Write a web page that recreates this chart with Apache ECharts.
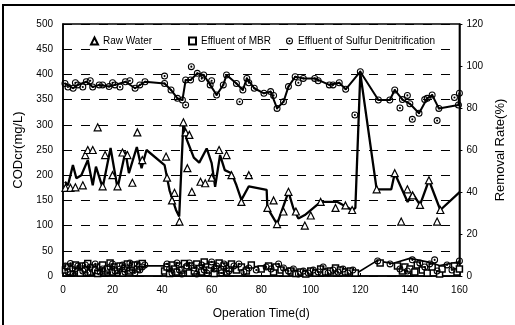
<!DOCTYPE html>
<html><head><meta charset="utf-8">
<script src="https://cdn.jsdelivr.net/npm/echarts@6/dist/echarts.min.js"></script>
<style>html,body{margin:0;padding:0;background:#fff}#c{width:515px;height:325px}</style>
</head><body><div id="c"></div>
<script>
// ---- data (day, value) ----
const xTicks = [0,20,40,60,80,100,120,140,160];
const rawWaterPoints = [[1,175],[3,175],[5,176],[8,180],[9,240],[10,250],[12,250],[14,295],[16,178],[17,240],[20,200],[22,178],[24,245],[26,240],[28,185],[30,285],[32,230],[41.6,237],[42,195],[44,150],[45,165],[47,108],[48.6,305],[49.5,285],[51,280],[50.2,214],[52,167],[55.5,187],[57.4,184],[60,195],[63,250],[66,240],[68,200],[72,147],[75,200],[82.5,135],[85,150],[86.4,103],[89,128],[91,167],[94,128],[97.6,100],[100,120],[104,147],[110,135],[114,140],[116.7,131],[126.6,172],[133.9,204],[136.5,108],[139,172],[141.1,160],[144.1,141],[147.7,190],[151,108],[152.3,131],[160.2,167]];
const rawLinePoints = [[0.8,187],[2,180],[4,220],[5.4,194],[7.4,200],[10,230],[12,180],[13.3,217],[16,175],[19.2,254],[22,174],[25.2,247],[26.6,204],[29.8,256],[31.7,214],[33.7,250],[41,220],[43,170],[45.6,131],[46.9,118],[48.6,305],[50,270],[52.8,235],[55,225],[58,253],[60,224],[61.4,177],[63.4,240],[65.3,210],[68,204],[70,180],[72,151],[75,178],[82.2,171],[82.5,135],[86.4,103],[91,167],[93,134],[95,114],[97.6,121],[104,147],[110.8,147],[116.7,131],[118,135],[120,402],[126.6,172],[132.5,172],[133.9,204],[139.1,147],[141.1,164],[144.1,141],[147.7,190],[152.3,131],[160.2,167]];
const mbrPoints = [[1,12],[2,18],[3,8],[4,15],[5,22],[6,10],[7,6],[8,20],[9,14],[10,25],[11,8],[12,16],[13,12],[14,5],[15,18],[16,22],[17,10],[18,14],[19,26],[20,8],[21,18],[22,12],[23,20],[24,6],[25,15],[26,24],[27,10],[28,18],[29,22],[30,14],[31,20],[32,25],[41,10],[42,18],[43,5],[44,22],[45,14],[46,8],[47,20],[48,12],[49,25],[50,16],[51,6],[52,20],[53,10],[54,24],[55,15],[56,8],[57,28],[58,18],[59,12],[60,22],[61,5],[62,16],[63,26],[64,12],[65,20],[66,8],[67,15],[68,24],[70,12],[72,18],[74,10],[76,22],[80,14],[83,20],[85,8],[86,18],[88,12],[90,6],[92,10],[94,5],[96,8],[98,4],[100,10],[102,6],[104,14],[106,8],[108,10],[110,16],[112,12],[114,8],[116,10],[118,6],[128,26],[135,20],[137,10],[138,18],[140,14],[142,8],[143,22],[145,12],[147,6],[149,18],[152,4],[153,14],[158,20],[159,8],[160,14]];
const sulfurPoints = [[1,20],[2,8],[3,25],[4,5],[5,14],[6,20],[8,10],[9,22],[10,6],[11,18],[13,24],[14,10],[15,8],[16,14],[18,6],[19,18],[20,24],[21,10],[22,5],[23,14],[24,22],[25,8],[26,16],[27,26],[28,12],[29,6],[30,24],[31,12],[32,18],[33,22],[42,24],[43,14],[44,6],[46,26],[47,12],[48,4],[50,20],[51,26],[53,16],[54,4],[56,22],[57,12],[58,6],[60,28],[61,14],[62,20],[64,6],[65,24],[66,16],[67,10],[69,20],[71,24],[73,8],[75,16],[78,12],[82,18],[84,14],[87,24],[89,16],[91,10],[93,14],[95,4],[97,10],[99,6],[101,12],[103,8],[105,18],[107,6],[109,12],[111,8],[113,14],[115,6],[117,12],[127,30],[132,24],[136,14],[139,10],[141,32],[144,26],[146,18],[148,24],[150,32],[151,10],[155,22],[157,12],[160,30]];
const sulfurLinePoints = [[0,14],[34,20],[41,20],[48,15],[55,18],[62,16],[70,18],[76,18],[83,21],[87,22],[89,9],[95,10],[102,12],[108,14],[113,15],[119,7],[126.6,30],[133,25],[140,35],[147,28],[152,21],[160,28]];
const removalLinePoints = [[0.8,91.7],[4.1,89.4],[6,91],[9.4,92.5],[12,90],[14.6,91],[18.6,90.2],[21,91],[25.2,92.5],[29.1,89.4],[33.1,92.5],[41,91.7],[43.6,88.6],[46.2,84.6],[48.2,83.8],[49.5,93.3],[51.5,93.3],[54.2,96.5],[56.8,95.7],[59.4,91],[62,86.2],[64.7,91],[66,95.7],[70,91.7],[72.6,88.6],[74.2,94.1],[77.2,89.4],[81.1,87],[83.8,87.8],[86.4,79.8],[89,83],[91,90.2],[93.7,94.9],[97,94.1],[101.6,94.1],[107.5,91],[111.5,92],[114.1,88.9],[120,97.3],[127.3,83.8],[131.9,83.8],[133.9,88.6],[137,84],[140,82],[143.7,77.5],[147,84.6],[149,86.2],[151.7,79.8],[159.6,81.4],[160,87]];
const removalPoints = [[41,95.2],[51.8,99.7],[49.5,81.4],[71.3,83],[117.8,76.7],[136,80],[139,86],[141,74.6],[151,74],[2,90],[5,92],[8,90],[11,93],[16,91],[20,92],[23,90],[27,93],[31,91],[56,94],[60,93],[75,92],[85,86],[95,92],[103,93],[109,91],[146,84],[158,85]];

const dotCircle = 'path://M5,0A5,5 0 1,1 4.99,0Z M5,1.5A3.5,3.5 0 1,0 5.01,1.5Z M5,3.5A1.5,1.5 0 1,1 4.99,3.5Z';
const FONT = 'Liberation Sans, Arial, sans-serif';
const hollow = {color:'#fff',borderColor:'#000',borderWidth:1.2,opacity:1};
const solid = {color:'#000',opacity:1};

const chart = echarts.init(document.getElementById('c'));
chart.setOption({
  animation:false,
  backgroundColor:'#fff',
  textStyle:{fontFamily:FONT,color:'#000'},
  grid:{left:63,right:47,top:24,bottom:49,show:true,borderColor:'#000',borderWidth:1.5,backgroundColor:'transparent'},
  graphic:[
    {type:'line',shape:{x1:2,y1:5,x2:515,y2:5},style:{stroke:'#000',lineWidth:2}},
    {type:'line',shape:{x1:3,y1:5,x2:3,y2:325},style:{stroke:'#000',lineWidth:2}}
  ],
  legend:[
    {left:85,top:31,itemWidth:7,itemHeight:7,itemGap:4,textStyle:{fontSize:10,fontFamily:FONT,color:'#000'},data:[{name:'Raw Water'}]},
    {left:183,top:31,itemWidth:7,itemHeight:7,textStyle:{fontSize:10,fontFamily:FONT,color:'#000'},data:[{name:'Effluent of MBR'}]},
    {left:281,top:31,itemWidth:7,itemHeight:7,textStyle:{fontSize:10,fontFamily:FONT,color:'#000'},data:[{name:'Effluent of Sulfur Denitrification'}]}
  ],
  xAxis:{type:'value',min:0,max:160,interval:20,
    name:'Operation Time(d)',nameLocation:'middle',nameGap:32,nameTextStyle:{fontSize:12,fontFamily:FONT,color:'#000'},
    axisLine:{lineStyle:{color:'#000',width:1.5}},axisTick:{show:true,length:3,inside:true,lineStyle:{color:'#000'}},
    axisLabel:{fontSize:10,color:'#000',margin:9,fontFamily:FONT},splitLine:{show:false}},
  yAxis:[
    {type:'value',min:0,max:500,interval:50,
      name:'CODcr(mg/L)',nameLocation:'middle',nameGap:37,nameRotate:90,nameTextStyle:{fontSize:13,fontFamily:FONT,color:'#000'},
      axisLine:{show:true,lineStyle:{color:'#000',width:1.5}},axisTick:{show:false},
      axisLabel:{fontSize:10,color:'#000',margin:10,fontFamily:FONT},
      splitLine:{show:true,lineStyle:{color:'#000',type:[9,9],width:1}}},
    {type:'value',min:0,max:120,interval:20,position:'right',
      name:'Removal Rate(%)',nameLocation:'middle',nameGap:29,nameRotate:90,nameTextStyle:{fontSize:13,fontFamily:FONT,color:'#000'},
      axisLine:{show:true,lineStyle:{color:'#000',width:1.5}},axisTick:{show:true,length:3,lineStyle:{color:'#000'}},
      axisLabel:{fontSize:10,color:'#000',margin:7,fontFamily:FONT},splitLine:{show:false}}
  ],
  series:[
    {name:'rawLine',type:'line',data:rawLinePoints,showSymbol:false,lineStyle:{color:'#000',width:2.3},z:2},
    {name:'Raw Water',type:'scatter',data:rawWaterPoints,symbol:'triangle',symbolSize:7,itemStyle:hollow,z:3},
    {name:'sulfurLine',type:'line',data:sulfurLinePoints,showSymbol:false,lineStyle:{color:'#000',width:1.6},z:2},
    {name:'Effluent of MBR',type:'scatter',data:mbrPoints,symbol:'rect',symbolSize:6,itemStyle:{color:'#fff',borderColor:'#000',borderWidth:1.5,opacity:1},z:3},
    {name:'Effluent of Sulfur Denitrification',type:'scatter',data:sulfurPoints,symbol:dotCircle,symbolSize:7,itemStyle:solid,z:4},
    {name:'removalLine',type:'line',yAxisIndex:1,data:removalLinePoints,symbol:dotCircle,symbolSize:7,showSymbol:true,itemStyle:solid,lineStyle:{color:'#000',width:2},z:2},
    {name:'removalPts',type:'scatter',yAxisIndex:1,data:removalPoints,symbol:dotCircle,symbolSize:7,itemStyle:solid,z:3}
  ]
});
</script></body></html>
